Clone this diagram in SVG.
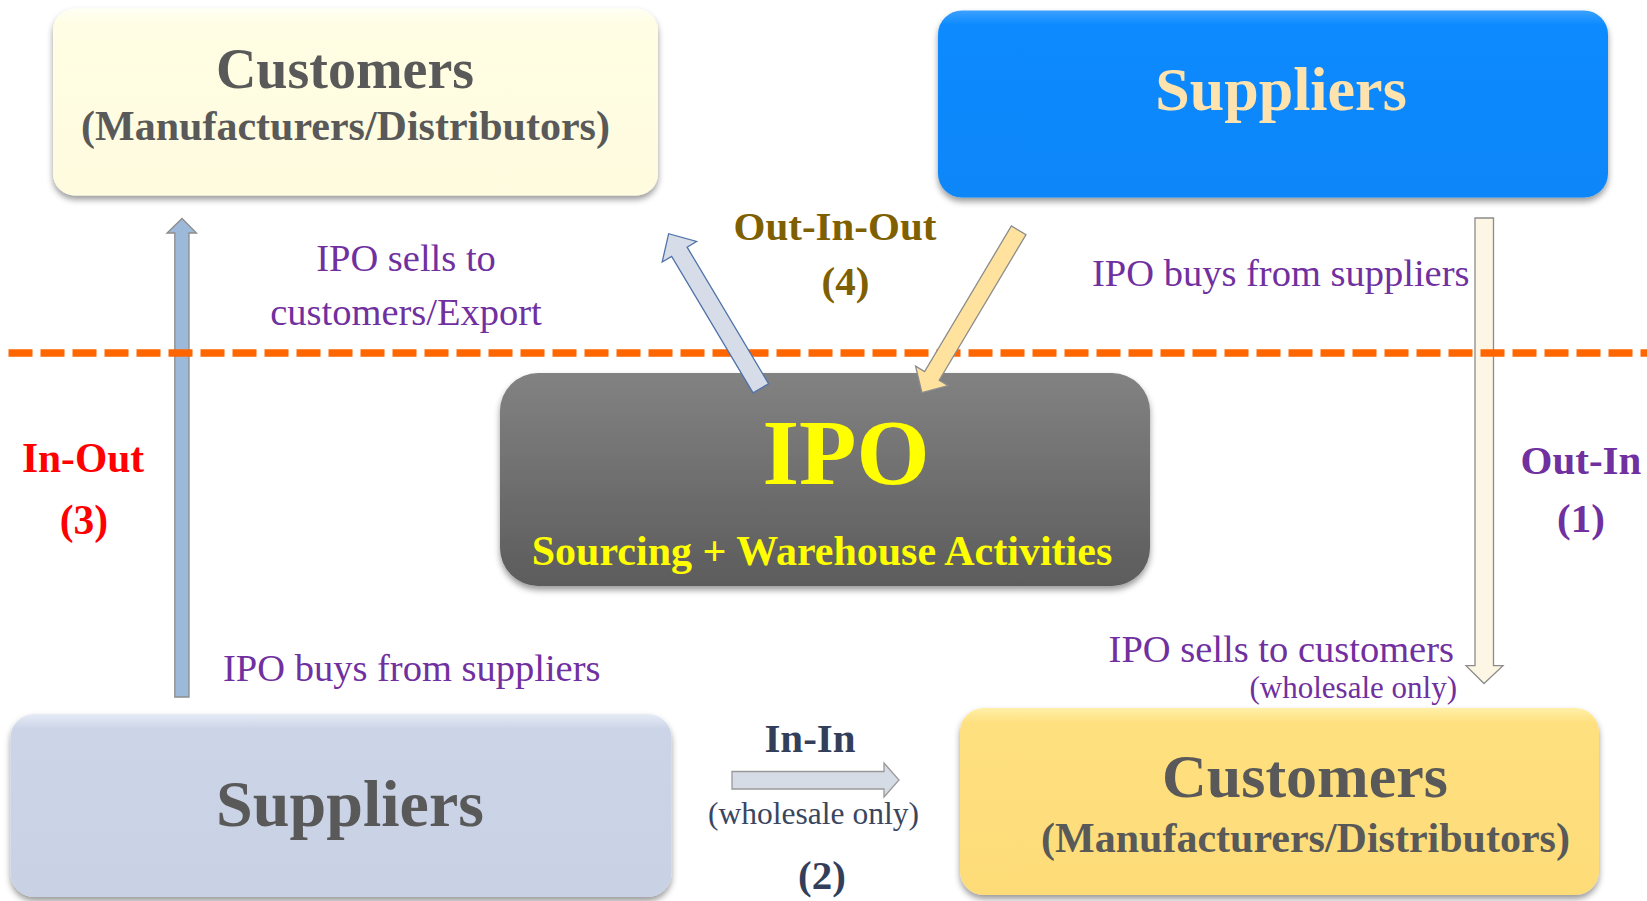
<svg xmlns="http://www.w3.org/2000/svg" width="1647" height="901" viewBox="0 0 1647 901">
<defs>
<filter id="sh" x="-5%" y="-10%" width="110%" height="125%">
<feDropShadow dx="0" dy="4" stdDeviation="3" flood-color="#000" flood-opacity="0.4"/>
</filter>
<linearGradient id="gCream" x1="0" y1="0" x2="0" y2="1">
<stop offset="0" stop-color="#FFFFF4"/><stop offset="0.08" stop-color="#FFFDE3"/><stop offset="1" stop-color="#FEFBDF"/>
</linearGradient>
<linearGradient id="gBlue" x1="0" y1="0" x2="0" y2="1">
<stop offset="0" stop-color="#3AA0FF"/><stop offset="0.08" stop-color="#0A8AFF"/><stop offset="1" stop-color="#0A86F8"/>
</linearGradient>
<linearGradient id="gGrey" x1="0" y1="0" x2="0" y2="1">
<stop offset="0" stop-color="#828282"/><stop offset="1" stop-color="#5C5C5C"/>
</linearGradient>
<linearGradient id="gSlate" x1="0" y1="0" x2="0" y2="1">
<stop offset="0" stop-color="#E6EBF5"/><stop offset="0.08" stop-color="#CCD5E8"/><stop offset="1" stop-color="#C9D2E5"/>
</linearGradient>
<linearGradient id="gYellow" x1="0" y1="0" x2="0" y2="1">
<stop offset="0" stop-color="#FFF0A8"/><stop offset="0.08" stop-color="#FFE07F"/><stop offset="1" stop-color="#FDDC78"/>
</linearGradient>
<style>
.b{font-family:"Liberation Serif","Times New Roman",serif;font-weight:bold;text-anchor:middle}
.r{font-family:"Liberation Serif","Times New Roman",serif;font-weight:normal}
.g{fill:#595959}
.p{fill:#7030A0}
.nv{fill:#333F5A}
.arr{stroke-width:1.3;stroke-linejoin:miter}
</style>
</defs>
<rect width="1647" height="901" fill="#FFFFFF"/>

<g id="customers-top">
<rect x="53" y="8.5" width="605" height="187" rx="22" fill="url(#gCream)" filter="url(#sh)"/>
<text class="b g" x="345" y="88" font-size="56">Customers</text>
<text class="b g" x="345.5" y="140" font-size="42">(Manufacturers/Distributors)</text>
</g>

<g id="suppliers-top">
<rect x="938" y="10.5" width="670" height="187" rx="24" fill="url(#gBlue)" filter="url(#sh)"/>
<text class="b" x="1281" y="110" font-size="62" fill="#FFE3AF">Suppliers</text>
</g>

<g id="suppliers-bottom">
<rect x="10.5" y="714" width="661" height="183" rx="24" fill="url(#gSlate)" filter="url(#sh)"/>
<text class="b g" x="350" y="826" font-size="66">Suppliers</text>
</g>

<g id="customers-bottom">
<rect x="960" y="708" width="639" height="187" rx="24" fill="url(#gYellow)" filter="url(#sh)"/>
<text class="b g" x="1305" y="797" font-size="62">Customers</text>
<text class="b g" x="1305.5" y="852" font-size="42">(Manufacturers/Distributors)</text>
</g>

<g id="connectors">
<polygon class="arr" points="174.8,697 174.8,233 167,233 182,218.5 196.5,233 189,233 189,697" fill="#9DB9DA" stroke="#8C8C8C"/>
<polygon class="arr" points="1475,218 1493.5,218 1493.5,665.7 1503,665.7 1484,683.5 1466,665.7 1475,665.7" fill="#FEF6E4" stroke="#8C8C8C"/>
<polygon class="arr" points="732,771.5 884,771.5 884,763 899,780 884,797 884,789 732,789" fill="#D6DCE5" stroke="#999999"/>
<line x1="8.5" y1="353" x2="1647" y2="353" stroke="#FF6600" stroke-width="7.3" stroke-dasharray="24 8"/>
</g>

<g id="ipo">
<rect x="500" y="373" width="650" height="213" rx="38" fill="url(#gGrey)" filter="url(#sh)"/>
<text class="b" x="846" y="484" font-size="94" fill="#FFFF00">IPO</text>
<text class="b" x="822" y="565" font-size="42" fill="#FFFF00">Sourcing + Warehouse Activities</text>
</g>

<g id="connectors-diagonal">
<polygon class="arr" transform="translate(760.8,388.3) rotate(-30.8)" points="-9,0 -9,-159 -20,-159 0,-180 20,-159 9,-159 9,0" fill="#D6DCE8" stroke="#4F73A8"/>
<polygon class="arr" transform="translate(1018.7,230.3) rotate(210.8)" points="-8.5,0 -8.5,-169.5 -19,-169.5 0,-189 19,-169.5 8.5,-169.5 8.5,0" fill="#FFE29E" stroke="#8C8C8C"/>
</g>

<g id="labels">
<text class="b" x="835" y="240" font-size="41" fill="#7F6000">Out-In-Out</text>
<text class="b" x="845.5" y="295" font-size="41" fill="#7F6000">(4)</text>
<text class="r p" x="406" y="271" font-size="38.5" text-anchor="middle">IPO sells to</text>
<text class="r p" x="406" y="325" font-size="38.5" text-anchor="middle">customers/Export</text>
<text class="r p" x="1092" y="286" font-size="38.5">IPO buys from suppliers</text>
<text class="r p" x="223" y="681" font-size="38.5">IPO buys from suppliers</text>
<text class="r p" x="1454" y="662" font-size="38.5" text-anchor="end">IPO sells to customers</text>
<text class="r p" x="1457" y="698" font-size="31" text-anchor="end">(wholesale only)</text>
<text class="b nv" x="810" y="752" font-size="41">In-In</text>
<text class="r" x="813.5" y="824" font-size="31.5" text-anchor="middle" fill="#3A4660">(wholesale only)</text>
<text class="b nv" x="822" y="889" font-size="41">(2)</text>
<text class="b p" x="1581" y="474" font-size="41">Out-In</text>
<text class="b p" x="1581" y="532" font-size="41">(1)</text>
<text class="b" x="83" y="472" font-size="41.5" fill="#FF0000">In-Out</text>
<text class="b" x="84" y="534" font-size="41.5" fill="#FF0000">(3)</text>
</g>
</svg>
